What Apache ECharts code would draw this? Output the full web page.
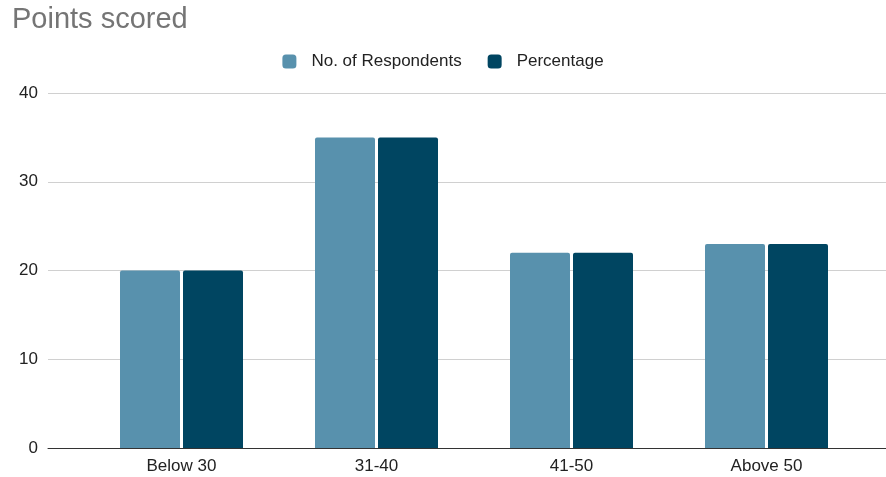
<!DOCTYPE html>
<html>
<head>
<meta charset="utf-8">
<script src="https://cdn.jsdelivr.net/npm/echarts@6/dist/echarts.min.js"></script>
<style>
	html, body { margin: 0; padding: 0; background: #fff; }
	#chart { width: 886px; height: 477px; }
</style>
</head>
<body>
<div id="chart"></div>
<script>
var categories = ['Below 30', '31-40', '41-50', 'Above 50'];
var respondents = [20, 35, 22, 23];
var percentage = [20, 35, 22, 23];
var yTicks = [0, 10, 20, 30, 40];

var font = '"Liberation Sans", Arial, sans-serif';

var chart = echarts.init(document.getElementById('chart'));

var option = {
	animation: false,
	textStyle: { fontFamily: font },
	title: {
		text: 'Points scored',
		left: 7,
		top: 0,
		textStyle: { fontFamily: font, fontSize: 29, fontWeight: 'normal', color: '#757575' }
	},
	legend: {
		top: 48,
		left: 'center',
		itemWidth: 14,
		itemHeight: 14,
		itemGap: 26,
		icon: 'roundRect',
		textStyle: { fontFamily: font, fontSize: 17, color: '#222', padding: [0, 0, 0, 10] },
		data: ['No. of Respondents', 'Percentage']
	},
	grid: [
		// bars
		{ left: 84, right: 22, top: 93, bottom: 29 },
		// full-width gridlines and y labels
		{ left: 48, right: 0, top: 93, bottom: 29 }
	],
	xAxis: [
		{
			type: 'category',
			gridIndex: 0,
			data: categories,
			axisLine: { show: false },
			axisTick: { show: false },
			axisLabel: { fontFamily: font, fontSize: 17, color: '#222', margin: 10 }
		},
		{
			type: 'value',
			gridIndex: 1,
			min: 0,
			max: 1,
			axisLine: { show: true, onZero: false, lineStyle: { color: '#333', width: 1 } },
			axisTick: { show: false },
			axisLabel: { show: false },
			splitLine: { show: false }
		}
	],
	yAxis: [
		{
			type: 'value',
			gridIndex: 0,
			min: 0,
			max: 40,
			interval: 10,
			axisLabel: { show: false },
			splitLine: { show: false }
		},
		{
			type: 'value',
			gridIndex: 1,
			min: 0,
			max: 40,
			interval: 10,
			axisLine: { show: false },
			axisTick: { show: false },
			axisLabel: {
				fontFamily: font, fontSize: 17, color: '#222', margin: 10,
				formatter: function(v) { return yTicks.indexOf(v) >= 0 ? String(v) : ''; }
			},
			splitLine: { lineStyle: { color: '#d0d0d0', width: 1 } }
		}
	],
	series: [
		{
			name: 'No. of Respondents',
			type: 'bar',
			xAxisIndex: 0,
			yAxisIndex: 0,
			barWidth: 60,
			barGap: '5%',
			itemStyle: { color: '#5891ad', borderRadius: [2, 2, 0, 0] },
			data: respondents
		},
		{
			name: 'Percentage',
			type: 'bar',
			xAxisIndex: 0,
			yAxisIndex: 0,
			barWidth: 60,
			itemStyle: { color: '#004561', borderRadius: [2, 2, 0, 0] },
			data: percentage
		}
	]
};

chart.setOption(option);
</script>
</body>
</html>
